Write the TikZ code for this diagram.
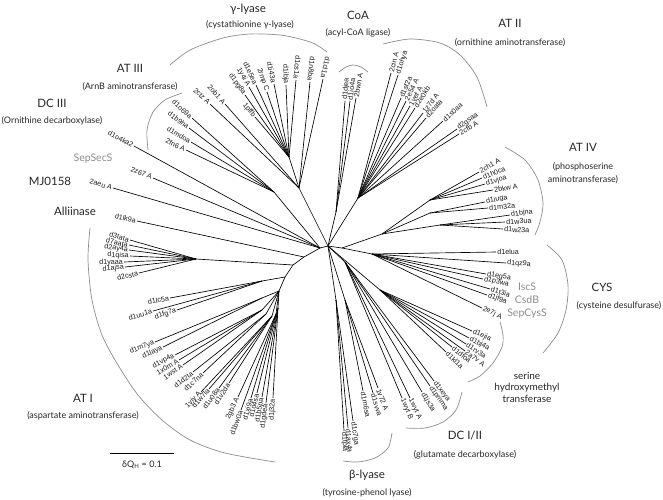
\documentclass[tikz,border=0pt]{standalone}
\usepackage{fontspec}
\setmainfont{Lato}
\newfontfamily\leaffont{Liberation Sans}

\tikzset{
  branch/.style={line width=0.65pt, black},
  leaftxt/.style={font=\leaffont\fontsize{7.2}{8.5}\selectfont, text=black!90, inner sep=0.9pt},
  cladearc/.style={line width=0.7pt, black!45},
  cladename/.style={font=\fontsize{11.5}{13}\selectfont, text=black!85, inner sep=0pt},
  cladesub/.style={font=\fontsize{9}{11}\selectfont, text=black!85, inner sep=0pt},
  greyname/.style={font=\fontsize{10.5}{12}\selectfont, text=black!45, inner sep=0pt},
}
\newcommand{\leafin}[4]{%
  \coordinate (#3) at #2;
  \draw[branch] (#3) -- (#1) node[leaftxt, pos=0, sloped, allow upside down, anchor=east] (#3l) {#4};}
\newcommand{\leafout}[4]{%
  \coordinate (#3) at #2;
  \draw[branch] (#1) -- (#3) node[leaftxt, pos=1, sloped, allow upside down, anchor=west] (#3l) {#4};}

\begin{document}
\begin{tikzpicture}[x=1pt, y=-1pt]
\useasboundingbox (0,0) rectangle (663,499);

\coordinate (HL) at (320,248);
\coordinate (H) at (328,246);
\coordinate (HR) at (342,248);
\draw[branch] (HL) -- (H) -- (HR);

\coordinate (G) at (299,188);
\coordinate (G1) at (289,157);
\draw[branch] (H) -- (G) -- (G1);
\leafin{G}{(210,104)}{gl1}{2ctz A}
\leafin{G}{(225,104)}{gl2}{2ob1 A}
\leafin{G1}{(255,117)}{gl3}{1pffb}
\leafin{G1}{(245,95)}{gl4}{d1pg8a}
\leafin{G1}{(249,87)}{gl5}{1y4i A}
\leafin{G1}{(256,85)}{gl6}{d1e5ea}
\leafin{G1}{(267,92)}{gl7}{2rmp C}
\leafin{G1}{(274,84)}{gl8}{d1i43a}
\leafin{G1}{(286,85)}{gl9}{d1ibja}
\leafin{G1}{(296,80)}{gl10}{d1cs1a}
\leafin{G}{(310,82)}{gl11}{d1n8ba}
\leafin{G}{(323,79)}{gl12}{d1cl1a}

\coordinate (CO) at (336,212);
\draw[branch] (H) -- (CO);
\leafout{CO}{(345,101)}{co1}{d1djea}
\leafout{CO}{(350,101)}{co2}{d1io4a}
\leafout{CO}{(356,98)}{co3}{2bwn A}

\coordinate (OT) at (358,198);
\draw[branch] (H) -- (OT);
\leafout{OT}{(391,73)}{ot1}{2cin A}
\leafout{OT}{(398,75)}{ot2}{d1ohya}
\leafout{OT}{(401,98)}{ot3}{d1sf2a}
\leafout{OT}{(406,101)}{ot4}{2e54 A}
\leafout{OT}{(410,106)}{ot5}{1vef A}
\leafout{OT}{(415,108)}{ot6}{d2e0kb}
\leafout{OT}{(423,113)}{ot7}{1z7d A}
\leafout{OT}{(426,118)}{ot8}{d2oata}
\leafout{OT}{(443,121)}{ot9}{d1s0aa}
\leafout{OT}{(457,129)}{ot10}{d2gsaa}
\leafout{OT}{(459,134)}{ot11}{2cfb A}

\coordinate (PS) at (382,234);
\coordinate (PSa) at (430,200);
\coordinate (PSb) at (430,213);
\coordinate (PSc) at (440,225);
\draw[branch] (HR) -- (PS) -- (PSa);
\draw[branch] (PS) -- (PSb);
\draw[branch] (PS) -- (PSc);
\leafout{PSa}{(479,172)}{ps1}{2ch1 A}
\leafout{PSa}{(482,178)}{ps2}{d1h0ca}
\leafout{PSa}{(485,184)}{ps3}{d1vjoa}
\leafout{PSa}{(493,190)}{ps4}{2bkw A}
\leafout{PSb}{(485,202)}{ps5}{d1iuga}
\leafout{PSb}{(488,208)}{ps6}{d1m32a}
\leafout{PSc}{(510,215)}{ps7}{d1bjna}
\leafout{PSc}{(505,222)}{ps8}{d1w3ua}
\leafout{PSc}{(503,229)}{ps9}{d1w23a}

\coordinate (CY) at (372,254);
\draw[branch] (HR) -- (CY);
\leafout{CY}{(496,252)}{cy1}{d1elua}
\leafout{CY}{(506,263)}{cy2}{d1qz9a}
\leafout{CY}{(486,274)}{cy3}{d1eg5a}
\leafout{CY}{(483,279)}{cy4}{d1p3wa}
\leafout{CY}{(490,289)}{cy5}{d1t3ia}
\leafout{CY}{(487,295)}{cy6}{d1jf9a}
\leafout{CY}{(482,308)}{cy7}{2e7j A}

\coordinate (SH) at (380,290);
\draw[branch] (H) -- (SH);
\leafout{SH}{(472,331)}{sh1}{d1ejia}
\leafout{SH}{(469,338)}{sh2}{d1bj4a}
\leafout{SH}{(466,344)}{sh3}{d1rv3a}
\leafout{SH}{(465,351)}{sh4}{2a7v A}
\leafout{SH}{(452,347)}{sh5}{d1dfoa}
\leafout{SH}{(446,352)}{sh6}{d1kl1a}

\coordinate (DC) at (345,262);
\draw[branch] (H) -- (DC);
\leafout{DC}{(434,381)}{dc1}{d1xeya}
\leafout{DC}{(430,386)}{dc2}{d1pmma}
\leafout{DC}{(422,392)}{dc3}{d1js3a}
\leafout{DC}{(410,398)}{dc4}{1wyt A}
\leafout{DC}{(402,398)}{dc5}{1wyt B}

\coordinate (BLa) at (336,300);
\coordinate (BLb) at (345,300);
\draw[branch] (H) -- (BLa);
\draw[branch] (H) -- (BLb);
\leafout{BLa}{(344,431)}{bl1}{d1tpla}
\leafout{BLa}{(348,428)}{bl2}{d1ax4a}
\leafout{BLa}{(353,421)}{bl3}{d1c7ga}
\leafout{BLb}{(363,391)}{bl4}{d1m6sa}
\leafout{BLb}{(373,393)}{bl5}{d1svva}
\leafout{BLb}{(378,388)}{bl6}{1v72 A}

\coordinate (P1) at (304,257);
\coordinate (P2) at (293,265);
\coordinate (P3) at (285,277);
\coordinate (P4) at (279,291);
\draw[branch] (HL) -- (P1) -- (P2) -- (P3) -- (P4);
\leafin{P1}{(137,221)}{al1}{d1lk9a}

\coordinate (AI1) at (196,259);
\draw[branch] (P2) -- (AI1);
\leafin{AI1}{(130,240)}{ai1}{d3tata}
\leafin{AI1}{(129,245)}{ai2}{d7aata}
\leafin{AI1}{(129,250)}{ai3}{d2ay4a}
\leafin{AI1}{(130,256)}{ai4}{d1qisa}
\leafin{AI1}{(124,262)}{ai5}{d1yaaa}
\leafin{AI1}{(125,267)}{ai6}{d1ajsa}
\leafin{AI1}{(139,273)}{ai7}{d2csta}

\coordinate (AI2) at (262,281);
\draw[branch] (P3) -- (AI2);
\leafin{AI2}{(170,298)}{ai8}{d1lc5a}
\leafin{AI2}{(153,311)}{ai9}{d1uu1a}
\leafin{AI2}{(177,310)}{ai10}{d1fg7a}

\coordinate (AI3) at (262,298);
\coordinate (AI4) at (262,310);
\coordinate (AI5) at (266,314);
\coordinate (AI6) at (272,316);
\coordinate (AI7) at (276,314);
\coordinate (AI8) at (278,308);
\draw[branch] (P4) -- (AI3);
\draw[branch] (P4) -- (AI4);
\draw[branch] (P4) -- (AI5);
\draw[branch] (P4) -- (AI6);
\draw[branch] (P4) -- (AI7);
\draw[branch] (P4) -- (AI8);
\leafin{AI3}{(155,342)}{ai11}{d1m7ya}
\leafin{AI3}{(163,347)}{ai12}{d1laya}
\leafin{AI4}{(175,355)}{ai13}{d1vp4a}
\leafin{AI4}{(179,360)}{ai14}{1x0m A}
\leafin{AI4}{(183,365)}{ai15}{1wst A}
\leafin{AI5}{(193,372)}{ai16}{d1d2ta}
\leafin{AI5}{(203,373)}{ai17}{d1c7na}
\leafin{AI6}{(201,392)}{ai18}{1yiy A}
\leafin{AI6}{(209,389)}{ai19}{d1w7la}
\leafin{AI6}{(219,388)}{ai20}{d1u08a}
\leafin{AI6}{(229,383)}{ai21}{d1v2da}
\leafin{AI7}{(238,397)}{ai22}{2gb3 A}
\leafin{AI7}{(241,410)}{ai23}{d1bw0a}
\leafin{AI7}{(251,398)}{ai24}{d1xi9a}
\leafin{AI8}{(257,393)}{ai25}{d1o4sa}
\leafin{AI8}{(262,397)}{ai26}{d1b5pa}
\leafin{AI8}{(266,403)}{ai27}{d1gdea}
\leafin{AI8}{(273,398)}{ai28}{d1j32a}

\coordinate (AR) at (274,192);
\draw[branch] (HL) -- (AR);
\leafin{AR}{(192,118)}{ar1}{d1o69a}
\leafin{AR}{(189,128)}{ar2}{d1b9ha}
\leafin{AR}{(191,142)}{ar3}{d1mdoa}
\leafin{AR}{(186,150)}{ar4}{2fn6 A}

\leafin{HL}{(134,146)}{oc1}{d1o4ka2}
\leafin{HL}{(153,178)}{ss1}{2z67 A}
\leafin{HL}{(113,188)}{mj1}{2aeu A}

\draw[cladearc] plot[smooth] coordinates {(170,65) (190,50) (223,38) (250,34) (280,35) (300,39) (315,44) (327,52)};
\draw[cladearc] plot[smooth] coordinates {(339,72) (346,67) (353,65) (361,67) (368,72)};
\draw[cladearc] plot[smooth] coordinates {(383,44) (410,39) (440,43) (460,55) (477,77) (487,107)};
\draw[cladearc] plot[smooth] coordinates {(182,93) (165,100) (153,112) (147,130) (148,150)};
\draw[cladearc] plot[smooth] coordinates {(505,147) (525,160) (538,180) (543,203) (540,222) (535,235)};
\draw[cladearc] plot[smooth] coordinates {(547,245) (562,260) (568,285) (566,310) (558,333) (543,353)};
\draw[cladearc] plot[smooth] coordinates {(500,322) (503,335) (502,347) (493,363) (480,376) (468,382)};
\draw[cladearc] plot[smooth] coordinates {(462,392) (456,410) (443,422) (425,428) (406,428)};
\draw[cladearc] plot[smooth] coordinates {(392,433) (388,448) (375,458) (358,462) (343,461)};
\draw[cladearc] plot[smooth] coordinates {(90,228) (88,260) (92,300) (102,335) (118,365) (138,395) (162,420) (190,440) (225,453) (275,462)};

\node[cladename] (tgl) at (248,9) {γ-lyase};
\node[cladesub] (sgl) at (250,25) {(cystathionine γ-lyase)};
\node[cladename] (tco) at (358,15) {CoA};
\node[cladesub] (sco) at (358,33) {(acyl-CoA ligase)};
\node[cladename] (tot) at (510,23) {AT II};
\node[cladesub] (sot) at (510,43) {(ornithine aminotransferase)};
\node[cladename] (tar) at (130,68) {AT III};
\node[cladesub] (sar) at (130,87) {(ArnB aminotransferase)};
\node[cladename] (toc) at (52,103) {DC III};
\node[cladesub] (soc) at (52,121) {(Ornithine decarboxylase)};
\node[greyname] (tss) at (93,159) {SepSecS};
\node[cladename] (tmj) at (50,181) {MJ0158};
\node[cladename] (tal) at (75,211) {Alliinase};
\node[cladename] (tps) at (583,147) {AT IV};
\node[cladesub, align=center] (sps) at (583,173) {(phosphoserine\\[2pt]aminotransferase)};
\node[cladename] (tcy) at (602,287) {CYS};
\node[cladesub] (scy) at (619,306) {(cysteine desulfurase)};
\node[greyname, align=center] (gcy) at (527,301) {IscS\\[1pt]CsdB\\[1pt]SepCysS};
\node[cladename, align=center, font=\fontsize{10}{11.5}\selectfont] (tsh) at (527,387) {serine\\hydroxymethyl\\transferase};
\node[cladename] (tdc) at (465,436) {DC I/II};
\node[cladesub] (sdc) at (465,455) {(glutamate decarboxylase)};
\node[cladename] (tbl) at (367,475) {β-lyase};
\node[cladesub] (sbl) at (367,493) {(tyrosine-phenol lyase)};
\node[cladename] (tai) at (83,398) {AT I};
\node[cladesub] (sai) at (83,416) {(aspartate aminotransferase)};

\coordinate (sc1) at (110,453);
\coordinate (sc2) at (174,453);
\draw[branch] (sc1) -- (sc2);
\node[cladesub] (scl) at (142,465) {δQ\textsubscript{H} = 0.1};
\end{tikzpicture}
\end{document}
